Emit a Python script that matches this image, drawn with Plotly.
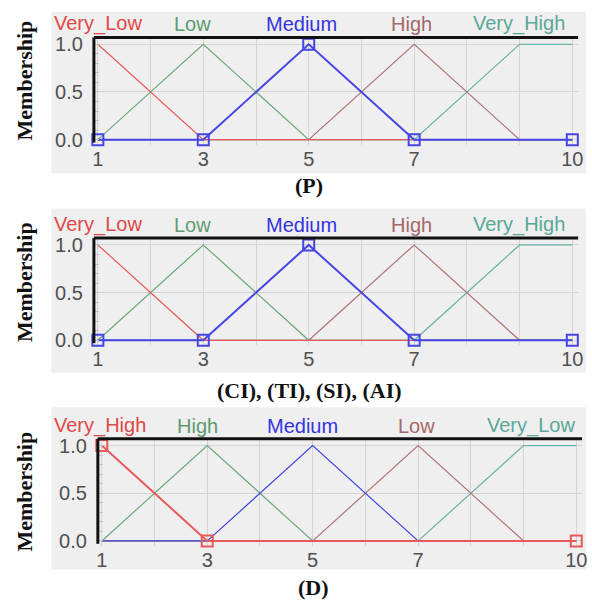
import plotly.graph_objects as go

# ---------------- data ----------------
breakpoints = [1, 3, 5, 7, 9, 10]

# Panel (P) and (CI),(TI),(SI),(AI): same term set
terms_up = ["Very_Low", "Low", "Medium", "High", "Very_High"]
very_low_up = [1, 0, 0, 0, 0, 0]
low_up = [0, 1, 0, 0, 0, 0]
medium_up = [0, 0, 1, 0, 0, 0]
high_up = [0, 0, 0, 1, 0, 0]
very_high_up = [0, 0, 0, 0, 1, 1]

# Panel (D): reversed term set
terms_down = ["Very_High", "High", "Medium", "Low", "Very_Low"]
very_high_d = [1, 0, 0, 0, 0, 0]
high_d = [0, 1, 0, 0, 0, 0]
medium_d = [0, 0, 1, 0, 0, 0]
low_d = [0, 0, 0, 1, 0, 0]
very_low_d = [0, 0, 0, 0, 1, 1]

# selected MF vertex markers
marker_x_up = [1, 3, 5, 7, 10]
marker_x_down = [1, 3, 10]

x_tick_vals = [1, 3, 5, 7, 10]
y_tick_vals = [0, 0.5, 1.0]
y_tick_text = ["0.0", "0.5", "1.0"]

panel_titles = ["(P)", "(CI), (TI), (SI), (AI)", "(D)"]

# ---------------- style ----------------
W, H = 592, 606
pos_colors = ["#e85a5a", "#6aa87c", "#4646e4", "#b07676", "#68b4a6"]
label_colors = ["#e04848", "#5e9a70", "#3434e0", "#a46868", "#5aa898"]


def fx(x):
    return x / W


def fy(y):
    return 1 - y / H


def interp(xs, ys, x):
    for i in range(len(xs) - 1):
        if xs[i] <= x <= xs[i + 1]:
            t = (x - xs[i]) / (xs[i + 1] - xs[i])
            return ys[i] + t * (ys[i + 1] - ys[i])
    return ys[-1]


panels = [
    dict(terms=terms_up, mfs=[very_low_up, low_up, medium_up, high_up, very_high_up],
         selected=2, order=[4, 3, 1, 0, 2], markers=marker_x_up,
         plot=(93, 583, 34, 143), bg=(50, 591, 8, 172), ytitle=(23, 78), xtitle=(311, 185),
         lshift=[0, -11, -7, -3, -1]),
    dict(terms=terms_up, mfs=[very_low_up, low_up, medium_up, high_up, very_high_up],
         selected=2, order=[4, 3, 1, 0, 2], markers=marker_x_up,
         plot=(93, 583, 238, 347), bg=(50, 591, 208, 375), ytitle=(23, 283), xtitle=(311, 393),
         lshift=[0, -11, -7, -3, -1]),
    dict(terms=terms_down, mfs=[very_high_d, high_d, medium_d, low_d, very_low_d],
         selected=0, order=[4, 3, 1, 2, 0], markers=marker_x_down,
         plot=(97, 587, 442, 551), bg=(50, 591, 410, 575), ytitle=(23, 496), xtitle=(315, 593),
         lshift=[-2, -10, -10, -2, 7]),
]

fig = go.Figure()
shapes = []
annotations = []

for i, p in enumerate(panels):
    ax = "" if i == 0 else str(i + 1)
    xref, yref = "x" + ax, "y" + ax
    x0, x1, y0, y1 = p["plot"]
    bx0, bx1, by0, by1 = p["bg"]
    # gray panel background
    shapes.append(dict(type="rect", xref="paper", yref="paper", layer="below",
                       x0=fx(bx0), x1=fx(bx1), y0=fy(by1), y1=fy(by0),
                       fillcolor="#efefef", line=dict(width=0)))
    for k in p["order"]:
        sel = (k == p["selected"])
        fig.add_trace(go.Scatter(
            x=breakpoints, y=p["mfs"][k], mode="lines", xaxis=xref, yaxis=yref,
            line=dict(color=pos_colors[k], width=2 if sel else 1.2),
            showlegend=False, hoverinfo="skip"))
    s = p["selected"]
    fig.add_trace(go.Scatter(
        x=p["markers"], y=[interp(breakpoints, p["mfs"][s], m) for m in p["markers"]],
        mode="markers", xaxis=xref, yaxis=yref, showlegend=False, hoverinfo="skip",
        marker=dict(symbol="square-open", size=11, color=pos_colors[s],
                    line=dict(width=2, color=pos_colors[s])),
        cliponaxis=False))
    # black sunken border top & left
    shapes.append(dict(type="line", xref=xref + " domain", yref=yref + " domain",
                       x0=0, x1=1, y0=1, y1=1, line=dict(color="#111", width=3)))
    shapes.append(dict(type="line", xref=xref + " domain", yref=yref + " domain",
                       x0=0, x1=0, y0=0.02, y1=1, line=dict(color="#111", width=3)))
    # term labels
    for k, t in enumerate(p["terms"]):
        peak = [breakpoints[j] for j in range(len(breakpoints)) if p["mfs"][k][j] == 1][0]
        annotations.append(dict(text=t, xref=xref, yref=yref + " domain", x=peak, y=1,
                                xanchor="center", yanchor="bottom", yshift=0,
                                xshift=p["lshift"][k], showarrow=False,
                                font=dict(family="Liberation Sans", size=20, color=label_colors[k])))
    annotations.append(dict(text="<b>Membership</b>", xref="paper", yref="paper",
                            x=fx(p["ytitle"][0]), y=fy(p["ytitle"][1]),
                            textangle=-90, showarrow=False, xanchor="center", yanchor="middle",
                            font=dict(family="Liberation Serif", size=22, color="#111")))
    annotations.append(dict(text="<b>" + panel_titles[i] + "</b>", xref="paper", yref="paper",
                            x=fx(p["xtitle"][0]), y=fy(p["xtitle"][1]),
                            showarrow=False, xanchor="center", yanchor="middle",
                            font=dict(family="Liberation Serif", size=22, color="#111")))

    xd = [fx(x0), fx(x1)]
    yd = [fy(y1), fy(y0)]
    fig.update_layout(**{
        "xaxis" + ax: dict(domain=xd, range=[0.925, 10.11], tickvals=x_tick_vals,
                           ticks="", showgrid=True, gridcolor="#d4d4d4", gridwidth=1,
                           minor=dict(dtick=1, tick0=1, showgrid=True, gridcolor="#d4d4d4", ticks=""),
                           zeroline=False, showline=False, anchor=yref,
                           tickfont=dict(family="Liberation Sans", size=20, color="#505050"),
                           fixedrange=True),
        "yaxis" + ax: dict(domain=yd, range=[-0.052, 1.072], tickvals=y_tick_vals,
                           ticktext=y_tick_text, ticks="", showgrid=True, gridcolor="#d4d4d4",
                           minor=dict(dtick=0.1, tick0=0, ticks="inside", ticklen=5,
                                      tickcolor="#c4c4c4", showgrid=False),
                           zeroline=False, showline=False, anchor=xref, ticklabelstandoff=10,
                           tickfont=dict(family="Liberation Sans", size=20, color="#505050"),
                           fixedrange=True),
    })

fig.update_layout(width=W, height=H, margin=dict(l=0, r=0, t=0, b=0),
                  paper_bgcolor="white", plot_bgcolor="white",
                  shapes=shapes, annotations=annotations, showlegend=False)

fig.write_html("out.html", config={"displayModeBar": False},
               post_script="document.body.style.margin='0';document.body.style.overflow='hidden';")
